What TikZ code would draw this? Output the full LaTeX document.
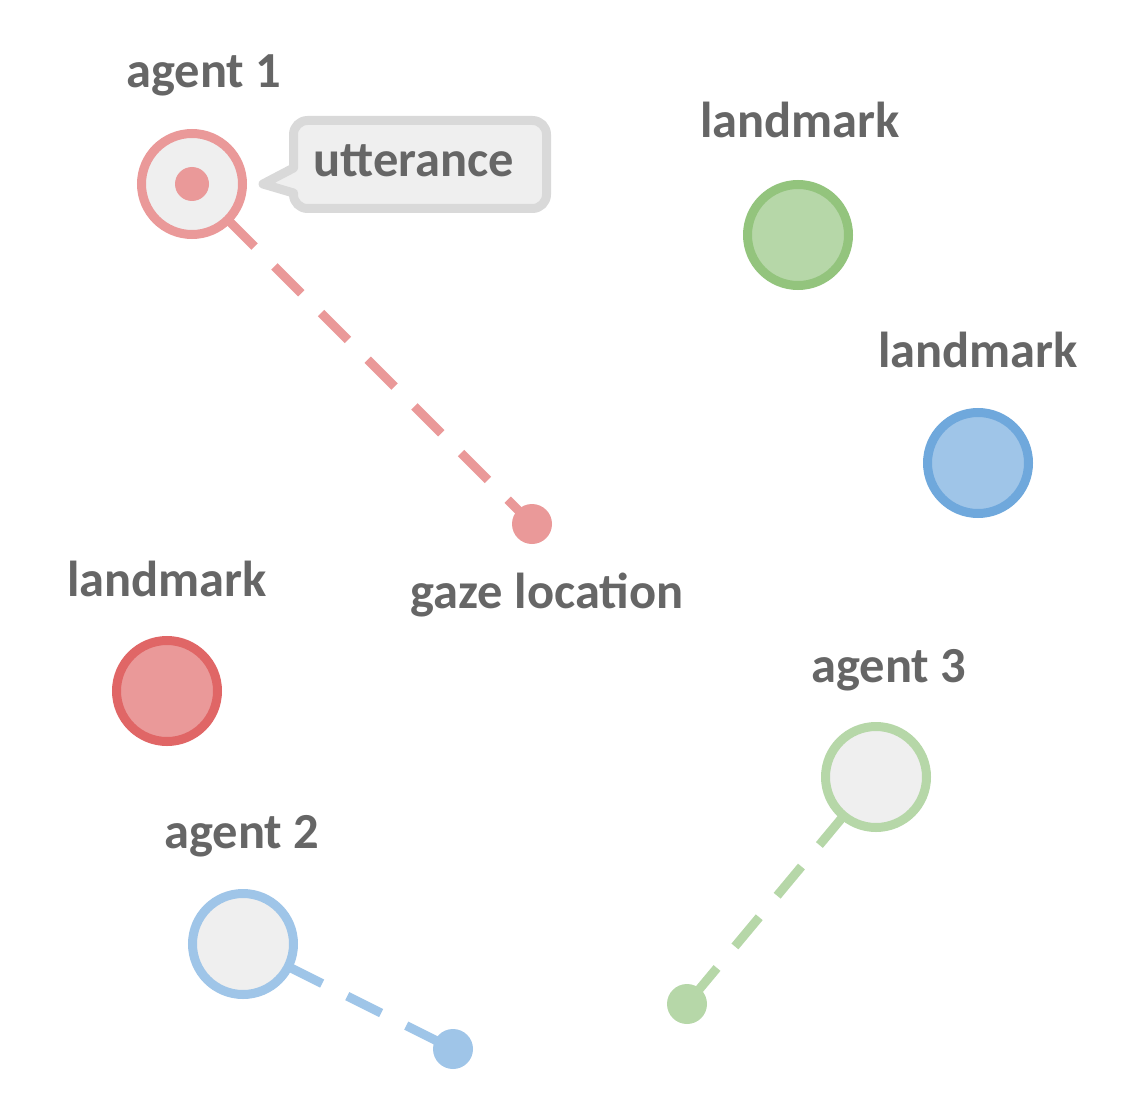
\documentclass[tikz,border=0pt]{standalone}
\usepackage{fontspec}
\setmainfont{Carlito}
\usetikzlibrary{backgrounds}
\definecolor{redL}{HTML}{EA9999}
\definecolor{redD}{HTML}{E06666}
\definecolor{greenL}{HTML}{B6D7A8}
\definecolor{greenD}{HTML}{93C47D}
\definecolor{blueL}{HTML}{9FC5E8}
\definecolor{blueD}{HTML}{6FA8DC}
\definecolor{grayF}{HTML}{EFEFEF}
\definecolor{grayS}{HTML}{D9D9D9}
\definecolor{txt}{HTML}{666666}
\tikzset{
  lbl/.style={anchor=base, inner sep=0pt, outer sep=0pt, text=txt, font=\fontsize{50.5pt}{60pt}\selectfont\bfseries},
  ring/.style={circle, minimum size=101pt, inner sep=0pt, outer sep=0pt, line width=9pt, draw=#1},
  agentring/.style={ring=#1, fill=grayF},
  lmring/.style={ring=#1},
  gdot/.style={circle, minimum size=40pt, inner sep=0pt, outer sep=0pt, fill=#1},
  gazeline/.style={line width=9pt, draw=#1, dash pattern=on 38pt off 28pt},
  bubble/.style={line width=9pt, draw=grayS, fill=grayF, line join=round}
}
\begin{document}
\begin{tikzpicture}[x=1pt, y=-1pt]
\useasboundingbox (0,0) rectangle (1124,1102);

% agents
\node[agentring=redL] (a1) at (192,184) {};
\node[agentring=blueL] (a2) at (243,944) {};
\node[agentring=greenL] (a3) at (876,777) {};
\node[circle, minimum size=34pt, inner sep=0pt, fill=redL] (a1dot) at (a1) {};

% gaze locations
\node[gdot=redL] (g1) at (532,524) {};
\node[gdot=blueL] (g2) at (453,1049) {};
\node[gdot=greenL] (g3) at (687,1004) {};

% gaze lines beneath
\begin{pgfonlayer}{background}
\draw[gazeline=redL] (a1) -- (g1.center);
\draw[gazeline=blueL] (a2) -- (g2.center);
\draw[gazeline=greenL] (a3) -- (g3.center);
\end{pgfonlayer}

% landmarks
\node[lmring=greenD, fill=greenL] (lmg) at (798,235) {};
\node[lmring=blueD, fill=blueL] (lmb) at (978,463) {};
\node[lmring=redD, fill=redL] (lmr) at (167,691) {};

% speech bubble
\draw[bubble] (293.5,168) -- (263,184) -- (293.5,193)
  [rounded corners=14pt] -- (293.5,208.5) -- (546.5,208.5) -- (546.5,120.5) -- (293.5,120.5)
  [sharp corners] -- (293.5,168) -- cycle;

% labels
\node[lbl] (la1) at (204,88) {agent 1};
\node[lbl] (lutt) at (414,177) {utterance};
\node[lbl] (llg) at (800,138) {landmark};
\node[lbl] (llb) at (978,367) {landmark};
\node[lbl] (llr) at (167,596) {landmark};
\node[lbl] (lgz) at (547,608) {gaze location};
\node[lbl] (la3) at (889,682) {agent 3};
\node[lbl] (la2) at (242,848) {agent 2};
\end{tikzpicture}
\end{document}
